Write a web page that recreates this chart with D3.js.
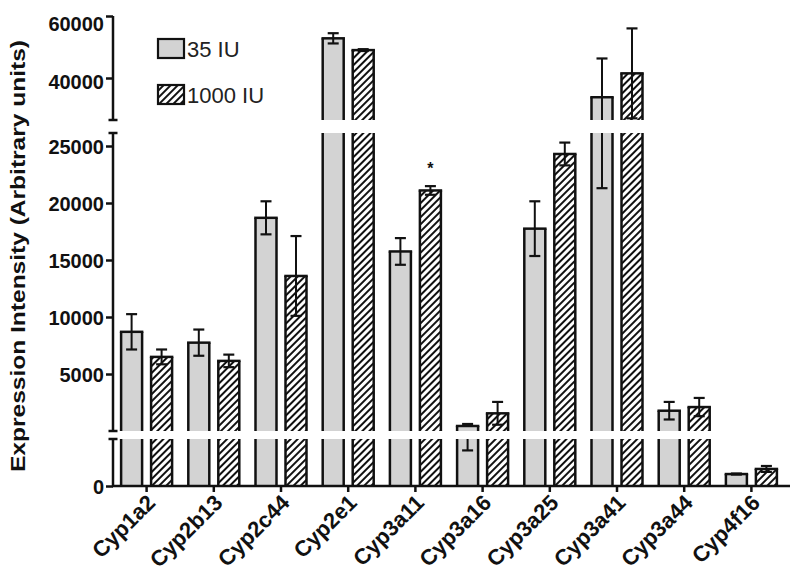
<!DOCTYPE html>
<html><head><meta charset="utf-8">
<script src="https://cdn.jsdelivr.net/npm/d3@7/dist/d3.min.js"></script>
<style>
body{margin:0;background:#fff;}
svg{display:block;font-family:"Liberation Sans",Arial,Helvetica,sans-serif;}
</style></head>
<body><svg id="chart" width="800" height="587"></svg>
<script>
const categories = ["Cyp1a2","Cyp2b13","Cyp2c44","Cyp2e1","Cyp3a11","Cyp3a16","Cyp3a25","Cyp3a41","Cyp3a44","Cyp4f16"];
const seriesNames = ["35 IU","1000 IU"];
const mean35  = [8700, 7750, 18700, 52800, 15750, 440, 17750, 33800, 1780, 89];
const sem35   = [1550, 1150, 1450, 1650, 1170, 175, 2400, 12500, 770, 4];
const mean1000 = [6500, 6150, 13600, 49000, 21100, 1550, 24300, 41500, 2100, 127];
const sem1000  = [650, 550, 3500, 300, 380, 1000, 1000, 14500, 800, 22];
const bottomTicks = [0];
const middleTicks = [5000, 10000, 15000, 20000, 25000];
const topTicks = [40000, 60000];
const significant = ["Cyp3a11"];

const svg = d3.select("#chart");
const X0 = 113, X1 = 785, XEND = 790;
const ink = "#111";

// broken y-axis segments
const segs = [
  {lo:0, hi:350, yBottom:486, yTop:439, scale:d3.scaleLinear().domain([0,350]).range([486,439]), ticks:bottomTicks},
  {lo:350, hi:26200, yBottom:431, yTop:133, scale:d3.scaleLinear().domain([0,26000]).range([431,134.6]), ticks:middleTicks},
  {lo:26200, hi:60000, yBottom:120, yTop:16, scale:d3.scaleLinear().domain([40000,60000]).range([78,16]), ticks:topTicks}
];

const x = d3.scaleBand().domain(categories).range([X0, X1]).padding(0);
const xs = d3.scaleBand().domain(seriesNames).range([-25.5, 25.5]).paddingInner(0.3).paddingOuter(0);

const defs = svg.append("defs");
const pat = defs.append("pattern").attr("id","hatch").attr("patternUnits","userSpaceOnUse")
  .attr("width",5).attr("height",5).attr("patternTransform","rotate(45)");
pat.append("rect").attr("width",5).attr("height",5).attr("fill","#fff");
pat.append("rect").attr("x",0).attr("y",0).attr("width",2).attr("height",5).attr("fill",ink);

const series = [
  {name:"35 IU", mean:mean35, sem:sem35, fill:"#d3d3d3"},
  {name:"1000 IU", mean:mean1000, sem:sem1000, fill:"url(#hatch)"}
];

const gBars = svg.append("g");
series.forEach(s => {
  categories.forEach((c,i) => {
    const v = s.mean[i];
    const bw = xs.bandwidth();
    const bx = x(c) + x.bandwidth()/2 + xs(s.name);
    const cx = bx + bw/2;
    segs.forEach((sg, k) => {
      const inSeg = k===0 ? v > 0 : v > sg.lo;
      if (!inSeg) return;
      let yt = v >= sg.hi ? sg.yTop : Math.min(sg.yBottom, Math.max(sg.yTop, sg.scale(v)));
      gBars.append("rect").attr("x",bx).attr("y",yt).attr("width",bw).attr("height",sg.yBottom-yt)
        .attr("fill",s.fill);
      gBars.append("line").attr("x1",bx).attr("x2",bx).attr("y1",yt).attr("y2",sg.yBottom)
        .attr("stroke",ink).attr("stroke-width",2.5);
      gBars.append("line").attr("x1",bx+bw).attr("x2",bx+bw).attr("y1",yt).attr("y2",sg.yBottom)
        .attr("stroke",ink).attr("stroke-width",2.5);
      if (v < sg.hi) {
        gBars.append("line").attr("x1",bx-1.25).attr("x2",bx+bw+1.25).attr("y1",yt).attr("y2",yt)
          .attr("stroke",ink).attr("stroke-width",2.5);
      }
    });
    // error bars
    const lo = v - s.sem[i], hi = v + s.sem[i];
    segs.forEach((sg, k) => {
      const a = Math.max(lo, sg.lo), b = Math.min(hi, sg.hi);
      if (a < b) {
        const ya = Math.min(sg.yBottom, Math.max(sg.yTop, sg.scale(a)));
        const yb = Math.min(sg.yBottom, Math.max(sg.yTop, sg.scale(b)));
        gBars.append("line").attr("x1",cx).attr("x2",cx).attr("y1",ya).attr("y2",yb)
          .attr("stroke",ink).attr("stroke-width",2);
      }
      [lo, hi].forEach(e => {
        const inside = k===0 ? (e >= sg.lo && e <= sg.hi) : (e > sg.lo && e <= sg.hi);
        if (inside) {
          const ye = sg.scale(e);
          gBars.append("line").attr("x1",cx-5.5).attr("x2",cx+5.5).attr("y1",ye).attr("y2",ye)
            .attr("stroke",ink).attr("stroke-width",2.2);
        }
      });
    });
  });
});

// significance marker
significant.forEach(c => {
  const i = categories.indexOf(c);
  const v = mean1000[i] + sem1000[i];
  const sg = segs[1];
  svg.append("text").attr("x", x(c)+x.bandwidth()/2 + xs("1000 IU") + xs.bandwidth()/2)
    .attr("y", sg.scale(v) - 12).attr("text-anchor","middle").attr("font-size",16).attr("font-weight","bold")
    .attr("fill",ink).text("*");
});

// y axis segments
const labelDy = {60000:"0.7em", 40000:"0.5em"};
segs.forEach((sg,k) => {
  const ax = d3.axisLeft(sg.scale).tickValues(sg.ticks).tickSize(7).tickPadding(2).tickFormat(d3.format("d"));
  const g = svg.append("g").attr("transform",`translate(${X0},0)`).call(ax);
  g.select(".domain").remove();
  g.selectAll(".tick line").attr("stroke",ink).attr("stroke-width",2.5);
  g.selectAll(".tick text").attr("font-size",20).attr("font-weight","bold").attr("fill",ink)
    .attr("font-family","'Liberation Sans',Arial,sans-serif")
    .attr("dy", d => labelDy[d] || "0.36em");
  g.append("line").attr("x1",0).attr("x2",0).attr("y1",sg.yTop).attr("y2",sg.yBottom)
    .attr("stroke",ink).attr("stroke-width",2.5);
  if (k>0) g.append("line").attr("x1",-4.5).attr("x2",4.5).attr("y1",sg.yBottom).attr("y2",sg.yBottom).attr("stroke",ink).attr("stroke-width",2.5);
  if (k<2) g.append("line").attr("x1",-4.5).attr("x2",4.5).attr("y1",sg.yTop).attr("y2",sg.yTop).attr("stroke",ink).attr("stroke-width",2.5);
});

// x axis
const gx = svg.append("g").attr("transform","translate(0,486)")
  .call(d3.axisBottom(x).tickSize(6).tickSizeOuter(0));
gx.select(".domain").remove();
gx.append("line").attr("x1",X0-1).attr("x2",XEND).attr("y1",0).attr("y2",0).attr("stroke",ink).attr("stroke-width",2.5);
gx.selectAll(".tick line").attr("stroke",ink).attr("stroke-width",2.5);
gx.selectAll(".tick text").attr("font-size",22).attr("font-weight","bold").attr("fill",ink)
  .attr("font-family","'Liberation Sans',Arial,sans-serif")
  .attr("text-anchor","end").attr("x",0).attr("y",0).attr("dy",0)
  .attr("transform","translate(10,18) rotate(-45)");

// y title
svg.append("text").attr("transform","translate(25,256) rotate(-90)").attr("text-anchor","middle")
  .attr("font-size",20).attr("font-weight","bold").attr("fill",ink)
  .attr("textLength",432).attr("lengthAdjust","spacingAndGlyphs")
  .text("Expression Intensity (Arbitrary units)");

// legend
const lg = svg.append("g");
series.forEach((s,j) => {
  const y0 = 39 + j*46;
  lg.append("rect").attr("x",158).attr("y",y0).attr("width",26).attr("height",19)
    .attr("fill",s.fill).attr("stroke",ink).attr("stroke-width",2.2);
  lg.append("text").attr("x",187).attr("y",y0+18).attr("font-size",22).attr("fill","#222")
    .text(s.name);
});
</script></body></html>
